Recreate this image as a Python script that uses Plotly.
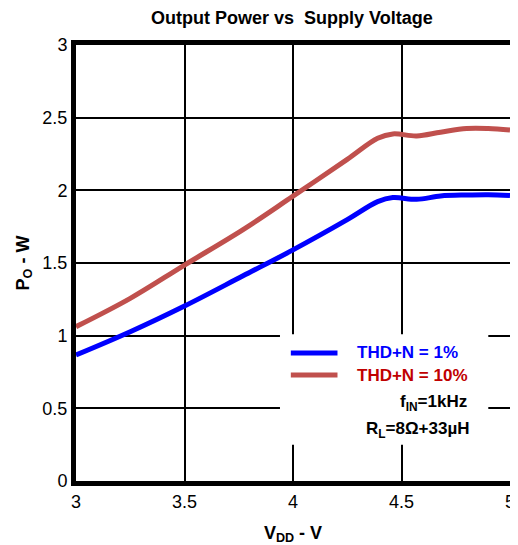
import plotly.graph_objects as go

vdd = [3.0, 3.25, 3.5, 3.77, 4.0, 4.25, 4.39, 4.46, 4.57, 4.68, 4.8, 4.9, 5.0]
po_thd1 = [0.867, 1.027, 1.204, 1.412, 1.59, 1.798, 1.922, 1.95, 1.938, 1.961, 1.968, 1.97, 1.965]
po_thd10 = [1.062, 1.257, 1.486, 1.73, 1.96, 2.213, 2.358, 2.388, 2.374, 2.40, 2.425, 2.425, 2.415]
x_ticks = [3, 3.5, 4, 4.5, 5]
y_ticks = [0, 0.5, 1, 1.5, 2, 2.5, 3]
series_names = ["THD+N = 1%", "THD+N = 10%"]
line_colors = ["#0000ff", "#c0504d"]
text_colors = ["#0000ff", "#c00000"]

FONT = "Liberation Sans, Arial, sans-serif"

fig = go.Figure()
for ys, nm, lc in zip([po_thd1, po_thd10], series_names, line_colors):
    fig.add_trace(go.Scatter(x=vdd, y=ys, mode="lines", name=nm, showlegend=False,
                             line=dict(color=lc, width=5, shape="spline", smoothing=1.0)))

# white legend box covering the grid
fig.add_shape(type="rect", xref="x", yref="y", x0=3.94, x1=4.9, y0=0.25, y1=1.01,
              fillcolor="white", line=dict(width=0), layer="between")

# legend samples and labels
leg_y = [0.881, 0.729]
for ly, nm, lc, tc in zip(leg_y, series_names, line_colors, text_colors):
    fig.add_shape(type="line", xref="x", yref="y", x0=3.99, x1=4.205, y0=ly, y1=ly,
                  line=dict(color=lc, width=5), layer="above")
    fig.add_annotation(text="<b>" + nm + "</b>", xref="x", yref="y", x=4.285, y=ly,
                       xanchor="left", yanchor="middle", showarrow=False,
                       font=dict(family=FONT, size=17, color=tc))

fig.add_annotation(text="<b>f<sub>IN</sub>=1kHz</b>", xref="x", yref="y", x=4.81, y=0.537,
                   xanchor="right", yanchor="middle", showarrow=False,
                   font=dict(family=FONT, size=17, color="black"))
fig.add_annotation(text="<b>R<sub>L</sub>=8Ω+33µH</b>", xref="x", yref="y", x=4.82, y=0.351,
                   xanchor="right", yanchor="middle", showarrow=False,
                   font=dict(family=FONT, size=17, color="black"))

fig.update_layout(
    width=518, height=545,
    margin=dict(l=68, r=16, t=37, b=72),
    paper_bgcolor="white", plot_bgcolor="white",
    font=dict(family=FONT, size=18, color="black"),
    title=dict(text="<b>Output Power vs  Supply Voltage</b>", x=0.548, xanchor="center",
               y=0.982, yanchor="middle", font=dict(family=FONT, size=18, color="black")),
    showlegend=False,
)
fig.update_xaxes(range=[3, 5], tickvals=x_ticks, ticktext=[str(v) for v in x_ticks],
                 showgrid=True, gridcolor="black", gridwidth=2,
                 showline=True, linecolor="black", linewidth=5, mirror=True, ticks="", zeroline=False,
                 title=dict(text="<b>V<sub>DD</sub> - V</b>", font=dict(size=18), standoff=17),
                 tickfont=dict(size=18))
fig.update_yaxes(range=[0, 3], tickvals=y_ticks, ticktext=[str(v) for v in y_ticks],
                 showgrid=True, gridcolor="black", gridwidth=2,
                 showline=True, linecolor="black", linewidth=5, mirror=True, ticks="", zeroline=False,
                 title=dict(text="<b>P<sub>O</sub> - W</b>", font=dict(size=18), standoff=10),
                 tickfont=dict(size=18))

fig.write_html("out.html")
